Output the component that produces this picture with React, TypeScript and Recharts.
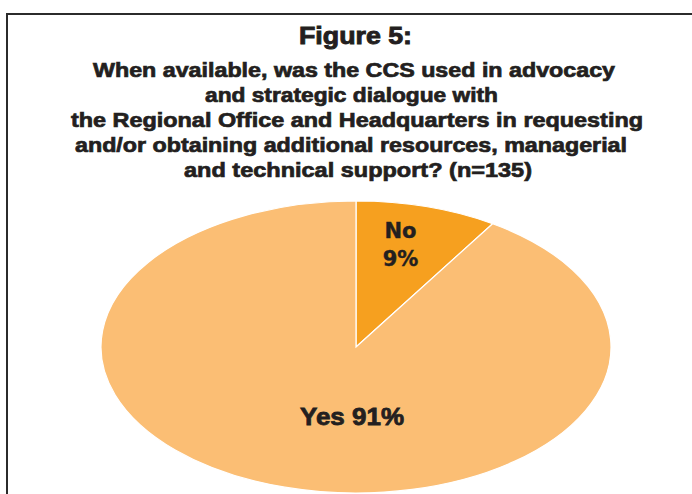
import React from "react";
import { PieChart, Pie, Cell } from "recharts";

const categories = ["No", "Yes"];
const shares = [9, 91];
const sliceColors = ["#F6A01F", "#FBBE74"];

const titleText = "Figure 5:";
const questionLines = [
  "When available, was the CCS used in advocacy",
  "and strategic dialogue with",
  "the Regional Office and Headquarters in requesting",
  "and/or obtaining additional resources, managerial",
  "and technical support? (n=135)",
];

const data = categories.map((name, i) => ({ name, value: shares[i] }));

// pie is drawn squashed (ellipse), rx = outerRadius, ry below
const RX = 255;
const RY = 146;
const CX = 356;
const CY = 347;

// layout for the question lines: [center x, baseline y, width]
const lineBoxes: [number, number, number][] = [
  [354, 77, 522],
  [351.5, 102, 293],
  [357, 127, 572],
  [351, 152, 552],
  [358, 177, 348],
];

const RAD = Math.PI / 180;
const INK = "#231f20";
const HEAVY = "'Liberation Sans', Arial, sans-serif";

function EllipseSector(props: any) {
  const { cx, cy, startAngle, endAngle, fill } = props;
  const p = (a: number) => [cx + RX * Math.cos(a * RAD), cy - RY * Math.sin(a * RAD)];
  const [x0, y0] = p(startAngle);
  const [x1, y1] = p(endAngle);
  const large = Math.abs(startAngle - endAngle) > 180 ? 1 : 0;
  const sweep = startAngle > endAngle ? 1 : 0;
  const d = `M${cx},${cy} L${x0},${y0} A${RX},${RY} 0 ${large} ${sweep} ${x1},${y1} Z`;
  return <path d={d} fill={fill} stroke="#ffffff" strokeWidth={1.2} />;
}

function SliceLabel(props: any) {
  const { cx, cy, midAngle, name, value } = props;
  if (name === "No") {
    const x = cx + RX * 0.625 * Math.cos(midAngle * RAD);
    const y = cy - RY * 0.734 * Math.sin(midAngle * RAD);
    return (
      <text
        x={x}
        textAnchor="middle"
        fill={INK}
        stroke={INK}
        strokeWidth={0.4}
        fontFamily="'DejaVu Sans', sans-serif"
        fontWeight="bold"
        fontSize={21}
      >
        <tspan x={x} y={y - 6}>{name}</tspan>
        <tspan x={x} y={y + 22}>{value}%</tspan>
      </text>
    );
  }
  return (
    <text
      x={cx - 4}
      y={cy + RY * 0.534}
      textAnchor="middle"
      fill={INK}
      stroke={INK}
      strokeWidth={0.8}
      fontFamily={HEAVY}
      fontWeight="bold"
      fontSize={24}
      textLength={104}
      lengthAdjust="spacingAndGlyphs"
    >
      {name} {value}%
    </text>
  );
}

export default function App() {
  return (
    <div style={{ position: "absolute", left: 0, top: 0, width: 692, height: 494, background: "#fff", overflow: "hidden" }}>
      <div
        style={{
          position: "absolute",
          left: 6,
          top: 13,
          width: 700,
          height: 500,
          borderTop: "2px solid #2b2b2b",
          borderLeft: "2px solid #2b2b2b",
        }}
      />
      <PieChart
        width={692}
        height={494}
        margin={{ top: 0, right: 0, bottom: 0, left: 0 }}
        style={{ position: "absolute", left: 0, top: 0 }}
      >
        <Pie
          data={data}
          dataKey="value"
          nameKey="name"
          cx={CX}
          cy={CY}
          outerRadius={RX}
          startAngle={90}
          endAngle={-270}
          stroke="#ffffff"
          shape={EllipseSector}
          label={SliceLabel}
          labelLine={false}
          isAnimationActive={false}
        >
          {data.map((d, i) => (
            <Cell key={d.name} fill={sliceColors[i]} />
          ))}
        </Pie>
      </PieChart>
      <svg width={692} height={494} style={{ position: "absolute", left: 0, top: 0, pointerEvents: "none" }}>
        <text
          x={355.5}
          y={44}
          textAnchor="middle"
          fontFamily={HEAVY}
          fontWeight="bold"
          fontSize={24}
          fill={INK}
          stroke={INK}
          strokeWidth={0.9}
          textLength={113}
          lengthAdjust="spacingAndGlyphs"
        >
          {titleText}
        </text>
        {questionLines.map((line, i) => (
          <text
            key={i}
            x={lineBoxes[i][0]}
            y={lineBoxes[i][1]}
            textAnchor="middle"
            fontFamily={HEAVY}
            fontWeight="bold"
            fontSize={20}
            fill={INK}
            stroke={INK}
            strokeWidth={0.7}
            textLength={lineBoxes[i][2]}
            lengthAdjust="spacingAndGlyphs"
          >
            {line}
          </text>
        ))}
      </svg>
    </div>
  );
}
